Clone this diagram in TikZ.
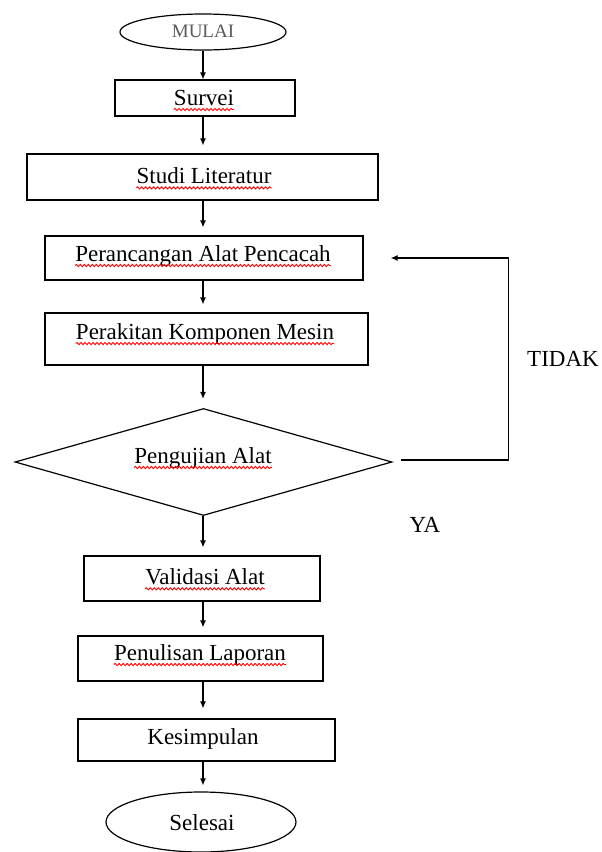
\documentclass[tikz,border=0pt]{standalone}
\usepackage{fontspec}
\setmainfont{Liberation Serif}
\usetikzlibrary{shapes.geometric,arrows.meta,decorations.pathmorphing}
\begin{document}
\begin{tikzpicture}[x=1pt,y=-1pt,
  every node/.style={font=\fontsize{23}{25}\selectfont, text=black},
  box/.style={draw, line width=1.2pt, rectangle, inner sep=0pt},
  term/.style={draw, line width=1.2pt, ellipse, inner sep=0pt},
  dec/.style={draw, line width=1.2pt, diamond, inner sep=0pt, shape aspect=3.5},
  txt/.style={inner sep=0pt},
  squig/.style={draw=red, line width=0.9pt, decorate, decoration={snake, segment length=4pt, amplitude=1.1pt}},
  arr/.style={line width=1.2pt, -{Latex[length=7pt,width=6pt]}},
  lbl/.style={inner sep=0pt}]
\useasboundingbox (0,0) rectangle (602,852);
% shapes
\node[term, minimum width=166, minimum height=36] (mulai) at (203,32) {};
\node[box, minimum width=180, minimum height=36] (survei) at (205,98) {};
\node[box, minimum width=351, minimum height=46] (studi) at (202.5,177) {};
\node[box, minimum width=318, minimum height=44] (rancang) at (204,258) {};
\node[box, minimum width=323, minimum height=52] (rakit) at (206.5,339) {};
\node[dec, minimum width=377, minimum height=107] (uji) at (203.5,462) {};
\node[box, minimum width=236, minimum height=45] (valid) at (202,578.5) {};
\node[box, minimum width=245, minimum height=45] (tulis) at (200.5,658.5) {};
\node[box, minimum width=257, minimum height=42] (simpul) at (206.5,740) {};
\node[term, minimum width=190, minimum height=60] (selesai) at (201,822) {};
% texts
\node[txt, font=\fontsize{19}{21}\selectfont, text=black!65] (mulait) at (203,31) {MULAI};
\node[txt] (surveit) at (204,98) {Survei};
\node[txt] (studit) at (204,176) {Studi Literatur};
\node[txt] (rancangt) at (203,256) {Perancangan Alat Pencacah};
\node[txt] (rakitt) at (205,334) {Perakitan Komponen Mesin};
\node[txt] (ujit) at (203,458) {Pengujian Alat};
\node[txt] (validt) at (205,577) {Validasi Alat};
\node[txt] (tulist) at (200,655) {Penulisan Laporan};
\node[txt] (simpult) at (203,739) {Kesimpulan};
\node[txt] (selesait) at (202,823) {Selesai};
\node[lbl] (tidak) at (563,359) {TIDAK};
\node[lbl] (ya) at (425,525) {YA};
% red squiggles
\foreach \n in {surveit,studit,rancangt,rakitt,ujit,validt,tulist}
  \draw[squig] ([yshift=-4pt]\n.base west) -- ([yshift=-4pt]\n.base east);
% connectors
\draw[arr] (mulai.south -| 203,0) -- (survei.north -| 203,0);
\draw[arr, shorten >=8pt] (survei.south -| 203,0) -- (studi.north -| 203,0);
\draw[arr, shorten >=8pt] (studi.south -| 203,0) -- (rancang.north -| 203,0);
\draw[arr, shorten >=8pt] (rancang.south -| 203,0) -- (rakit.north -| 203,0);
\draw[arr, shorten >=9pt] (rakit.south -| 203,0) -- (uji.north -| 203,0);
\draw[arr, shorten >=8pt] (uji.south -| 203,0) -- (valid.north -| 203,0);
\draw[arr, shorten >=8pt] (valid.south -| 203,0) -- (tulis.north -| 203,0);
\draw[arr, shorten >=10pt] (tulis.south -| 203,0) -- (simpul.north -| 203,0);
\draw[arr, shorten >=6pt] (simpul.south -| 203,0) -- (selesai.north -| 203,0);
\draw[arr] ([xshift=8pt,yshift=2pt]uji.east) -- ++(108,0) |- ([xshift=27pt]rancang.east);
\end{tikzpicture}
\end{document}
